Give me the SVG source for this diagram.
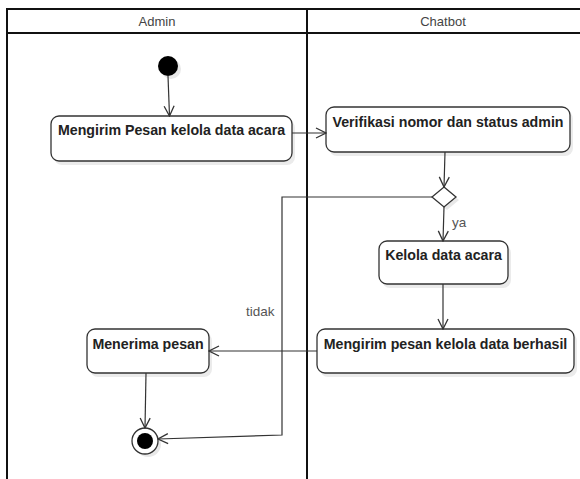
<svg xmlns="http://www.w3.org/2000/svg" width="580" height="479" viewBox="0 0 580 479">
<defs>
<marker id="open" viewBox="0 0 12 12" refX="11" refY="6" markerWidth="12" markerHeight="12" markerUnits="userSpaceOnUse" orient="auto">
<path d="M1,1 L11,6 L1,11" fill="none" stroke="#333" stroke-width="1.3"/>
</marker>
</defs>
<style>
.lane{fill:none;stroke:#111;stroke-width:2}
.hdr{font-family:"Liberation Sans",Arial,sans-serif;font-size:13px;fill:#444;text-anchor:middle}
.box{fill:#fff;stroke:#333;stroke-width:1.3}
.sh{fill:#ebebeb}
.lbl{font-family:"Liberation Sans",Arial,sans-serif;font-size:14.2px;font-weight:bold;fill:#222;text-anchor:middle}
.edge{fill:none;stroke:#333;stroke-width:1.2;marker-end:url(#open)}
.el{font-family:"Liberation Sans",Arial,sans-serif;font-size:13.5px;fill:#555}
</style>
<rect width="580" height="479" fill="#fff"/>
<g id="pool">
<path class="lane" d="M7,479 V9 H582 M7,33 H582 M307,9 V479"/>
<text class="hdr" x="157" y="25.5">Admin</text>
<text class="hdr" x="443" y="25.5">Chatbot</text>
</g>
<g id="start">
<circle cx="171" cy="69" r="10" fill="#e8e8e8"/>
<circle cx="168" cy="66" r="10" fill="#000"/>
</g>
<g id="n1">
<rect class="sh" x="54" y="120" width="241" height="45" rx="8"/>
<rect class="box" x="51" y="116" width="241" height="45" rx="8"/>
<text class="lbl" x="171.5" y="135">Mengirim Pesan kelola data acara</text>
</g>
<g id="n2">
<rect class="sh" x="329" y="111" width="244" height="45" rx="8"/>
<rect class="box" x="326" y="107" width="244" height="45" rx="8"/>
<text class="lbl" x="448" y="127">Verifikasi nomor dan status admin</text>
</g>
<g id="decision">
<path d="M447,190 L459,200 L447,210 L435,200 Z" fill="#e8e8e8"/>
<path d="M444,187 L456,197 L444,207 L432,197 Z" fill="#fff" stroke="#333" stroke-width="1.3"/>
</g>
<g id="n3">
<rect class="sh" x="382" y="245" width="129" height="43" rx="8"/>
<rect class="box" x="379" y="241" width="129" height="43" rx="8"/>
<text class="lbl" x="443.5" y="260">Kelola data acara</text>
</g>
<g id="n4">
<rect class="sh" x="320" y="333" width="257" height="44" rx="8"/>
<rect class="box" x="317" y="329" width="257" height="44" rx="8"/>
<text class="lbl" x="445.5" y="348.5">Mengirim pesan kelola data berhasil</text>
</g>
<g id="n5">
<rect class="sh" x="90" y="333" width="122" height="44" rx="8"/>
<rect class="box" x="87" y="329" width="122" height="44" rx="8"/>
<text class="lbl" x="148" y="348.5">Menerima pesan</text>
</g>
<g id="end">
<circle cx="148" cy="444" r="13" fill="#e8e8e8"/>
<circle cx="145" cy="441" r="13" fill="#fff" stroke="#333" stroke-width="1.3"/>
<circle cx="145" cy="441" r="8" fill="#000"/>
</g>
<g id="connectors">
<path class="edge" d="M168,76 L169.5,116"/>
<path class="edge" d="M292,133 H326"/>
<path class="edge" d="M445,152 L444,187"/>
<path class="edge" d="M444,207 L443,241"/>
<path class="edge" d="M443,284 L443,329"/>
<path class="edge" d="M317,351 H209"/>
<path class="edge" d="M146,373 L145,428"/>
<path class="edge" d="M432,197 H282 V435 L158,439"/>
<text class="el" x="452" y="227">ya</text>
<text class="el" x="246" y="316">tidak</text>
</g>
</svg>
